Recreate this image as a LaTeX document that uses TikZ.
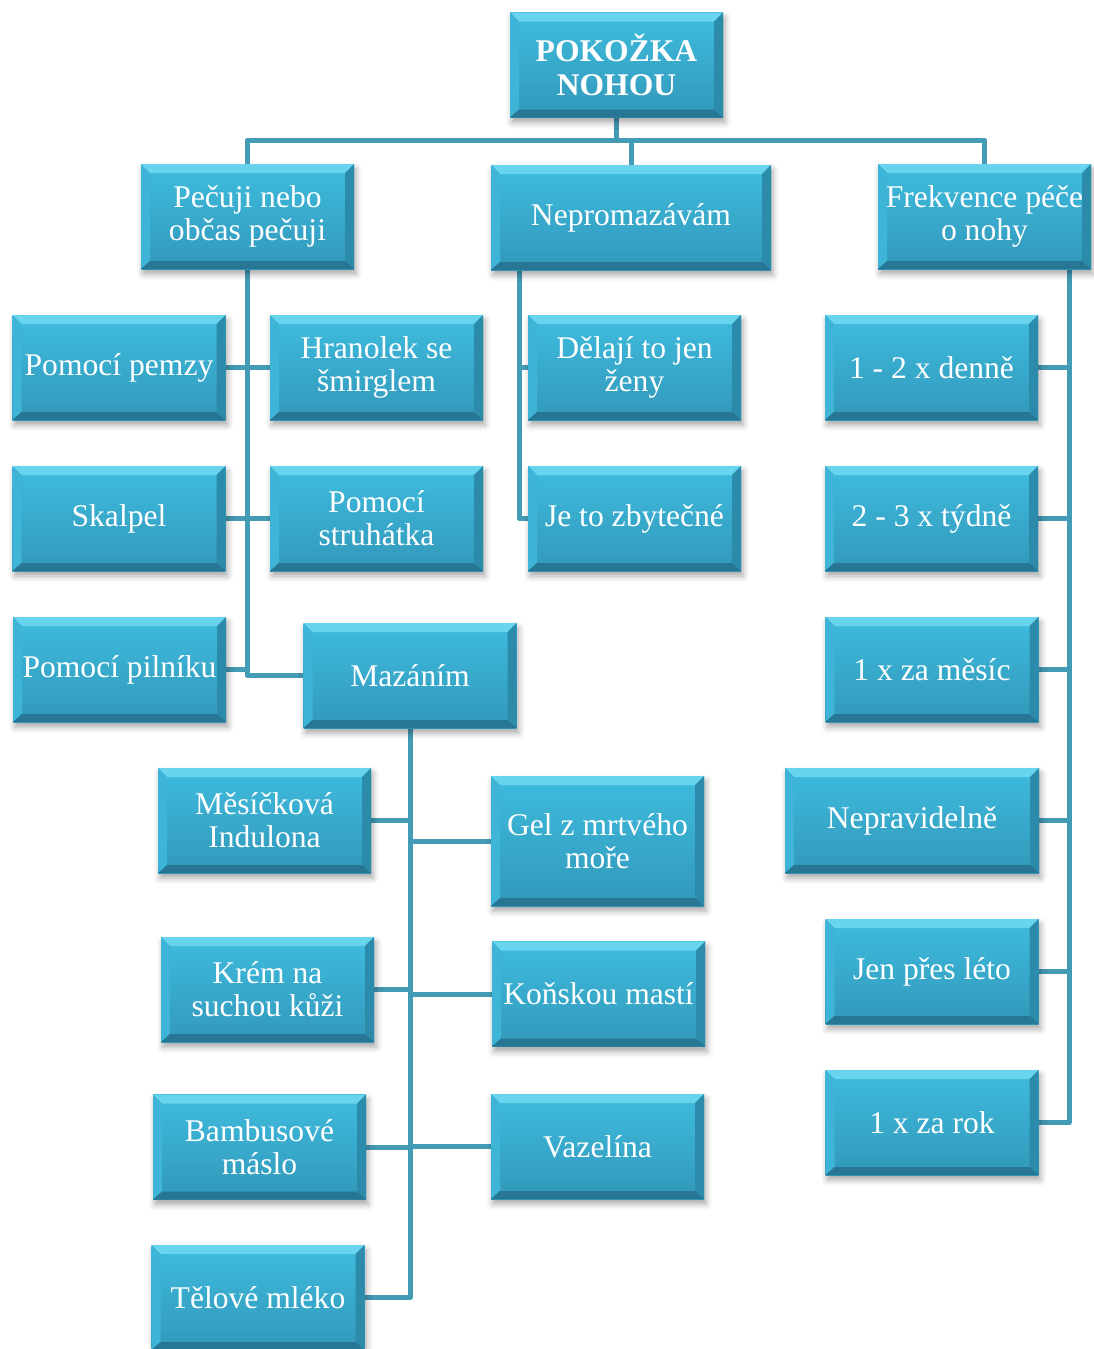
\documentclass[tikz,border=0pt]{standalone}
\usepackage{fontspec}
\setmainfont{Liberation Serif}
\usetikzlibrary{shadows.blur}
\definecolor{faceTop}{RGB}{62,188,222}
\definecolor{faceBot}{RGB}{50,152,186}
\definecolor{bevTop}{RGB}{104,212,238}
\definecolor{bevLeft}{RGB}{62,180,214}
\definecolor{bevRight}{RGB}{44,138,170}
\definecolor{bevBot}{RGB}{38,118,148}
\definecolor{linkCol}{RGB}{68,155,182}
\pgfdeclarelayer{bg}
\pgfsetlayers{bg,main}
\tikzset{
  bx/.style={rectangle, inner sep=0pt, align=center, text=white,
    font=\fontsize{15.8}{16.6}\selectfont,
    minimum width=106.5pt, minimum height=52.5pt,
    top color=faceTop, bottom color=faceBot,
    blur shadow={shadow xshift=1pt, shadow yshift=-2.5pt, shadow blur radius=3pt, shadow opacity=35},
    path picture={
      \coordinate (pnw) at (path picture bounding box.north west);
      \coordinate (pne) at (path picture bounding box.north east);
      \coordinate (psw) at (path picture bounding box.south west);
      \coordinate (pse) at (path picture bounding box.south east);
      \fill[bevTop] (pnw) -- (pne) -- ([shift={(-4.5pt,-4.5pt)}]pne) -- ([shift={(4.5pt,-4.5pt)}]pnw) -- cycle;
      \fill[bevLeft] (pnw) -- ([shift={(4.5pt,-4.5pt)}]pnw) -- ([shift={(4.5pt,4pt)}]psw) -- (psw) -- cycle;
      \fill[bevRight] (pne) -- ([shift={(-4.5pt,-4.5pt)}]pne) -- ([shift={(-4.5pt,4pt)}]pse) -- (pse) -- cycle;
      \fill[bevBot] (psw) -- ([shift={(4.5pt,4pt)}]psw) -- ([shift={(-4.5pt,4pt)}]pse) -- (pse) -- cycle;
    }},
  wide/.style={minimum width=#1*0.5pt},
  tall/.style={minimum height=#1*0.5pt},
  link/.style={draw=linkCol, line width=2.5pt, line join=round}
}
\begin{document}
\begin{tikzpicture}[x=0.5pt, y=-0.5pt]
\useasboundingbox (0,0) rectangle (1093,1349);

% top level
\node[bx, font=\fontsize{15.8}{17}\selectfont\bfseries] (root) at (616.5,65) {POKOŽKA\\NOHOU};
\node[bx] (n1) at (247.5,216.5) {Pečuji nebo\\občas pečuji};
\node[bx, wide=280] (n2) at (631,217.5) {Nepromazávám};
\node[bx] (n3) at (984.5,216.5) {Frekvence péče\\o nohy};

% care methods
\node[bx] (a1) at (119,367.5) {Pomocí pemzy};
\node[bx] (a2) at (376.5,367.5) {Hranolek se\\šmirglem};
\node[bx] (a3) at (119,518.5) {Skalpel};
\node[bx] (a4) at (376.5,518.5) {Pomocí\\struhátka};
\node[bx] (a5) at (119.5,669.5) {Pomocí pilníku};
\node[bx] (a6) at (410,675.5) {Mazáním};

% reasons for not using cream
\node[bx] (b1) at (634.5,367.5) {Dělají to jen\\ženy};
\node[bx] (b2) at (634.5,518.5) {Je to zbytečné};

% frequency
\node[bx] (c1) at (931.5,367.5) {1 - 2 x denně};
\node[bx] (c2) at (931.5,518.5) {2 - 3 x týdně};
\node[bx] (c3) at (932,669.5) {1 x za měsíc};
\node[bx, wide=254] (c4) at (912,820.5) {Nepravidelně};
\node[bx] (c5) at (932,971.5) {Jen přes léto};
\node[bx] (c6) at (932,1122.5) {1 x za rok};

% creams
\node[bx] (m1) at (264.5,820.5) {Měsíčková\\Indulona};
\node[bx, tall=130] (m2) at (597.5,841) {Gel z mrtvého\\moře};
\node[bx] (m3) at (267.5,989.5) {Krém na\\suchou kůži};
\node[bx] (m4) at (598.5,994) {Koňskou mastí};
\node[bx] (m5) at (259.5,1147) {Bambusové\\máslo};
\node[bx] (m6) at (597.5,1146.5) {Vazelína};
\node[bx] (m7) at (258,1297.5) {Tělové mléko};

\coordinate (bus) at (616.5,140);
\coordinate (t2) at (519,270);
\coordinate (t3) at (1069,269);

\begin{pgfonlayer}{bg}
  % root to first level
  \draw[link] (root.south) -- (bus);
  \draw[link] (n1.north) |- (bus) -| (n3.north);
  \draw[link] (n2.north) |- (bus);
  % first branch
  \draw[link] (n1.south) |- (a6.west);
  \draw[link] (a1.east) -- (a2.west);
  \draw[link] (a3.east) -- (a4.west);
  \draw[link] (a5.east) -- (a5.east -| n1.south);
  % second branch
  \draw[link] (t2) |- (b2.west);
  \draw[link] (b1.west) -- (b1.west -| t2);
  % third branch
  \draw[link] (t3) |- (c6.east);
  \foreach \c in {c1,c2,c3,c4,c5}
    \draw[link] (\c.east) -- (\c.east -| t3);
  % creams
  \draw[link] (a6.south) |- (m7.east);
  \foreach \m in {m1,m3,m5}
    \draw[link] (\m.east) -- (\m.east -| a6.south);
  \foreach \m in {m2,m4,m6}
    \draw[link] (\m.west) -- (\m.west -| a6.south);
\end{pgfonlayer}
\end{tikzpicture}
\end{document}
